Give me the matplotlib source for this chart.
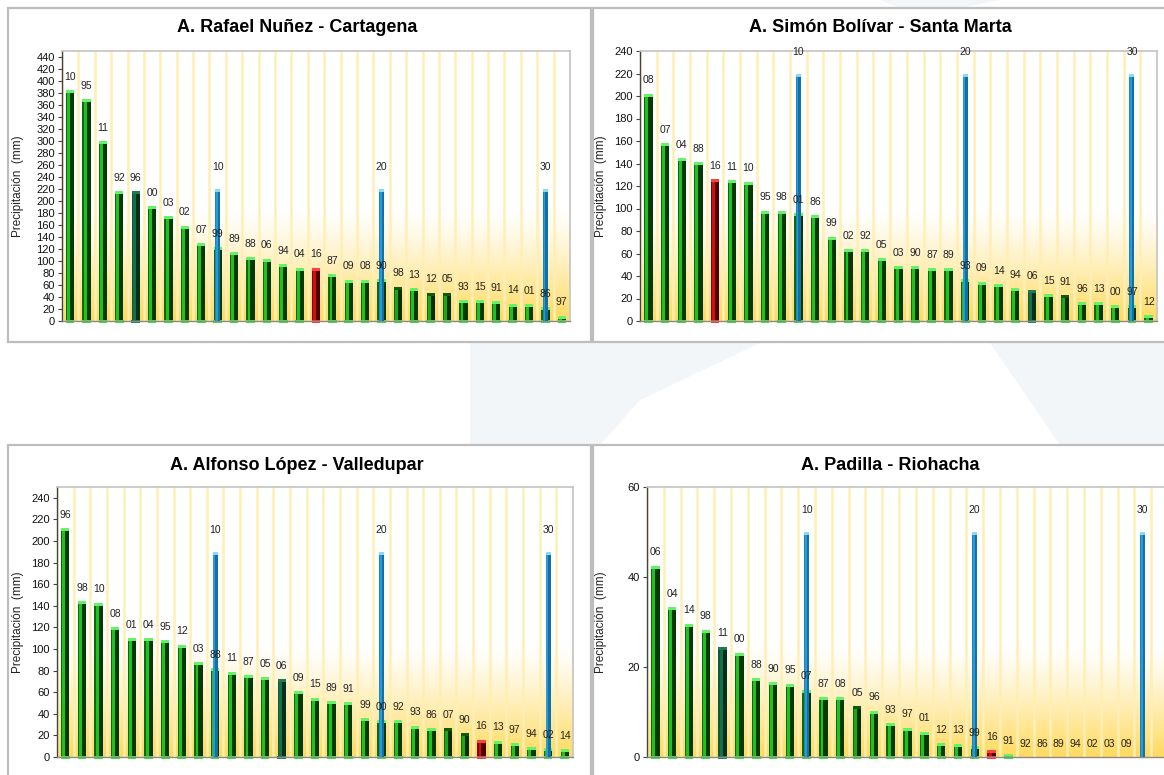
import numpy as np
import matplotlib.pyplot as plt
from matplotlib.patches import Rectangle, Polygon
from matplotlib.colors import to_rgb

plt.rcParams['font.family'] = ['Liberation Sans', 'DejaVu Sans']

W, H = 1164, 775

# ---- data (ranked monthly precipitation, label = year) ----
cart_years = ["10", "95", "11", "92", "96", "00", "03", "02", "07", "99",
              "89", "88", "06", "94", "04", "16", "87", "09", "08", "90",
              "98", "13", "12", "05", "93", "15", "91", "14", "01", "86", "97"]
cart_vals = [385, 370, 300, 216, 216, 191, 175, 159, 130, 123,
             115, 106, 104, 95, 89, 89, 78, 69, 69, 70,
             57, 55, 47, 47, 35, 35, 33, 29, 28, 23, 9]
cart_kind = ["n", "n", "n", "n", "d", "n", "n", "n", "n", "n",
             "n", "n", "n", "n", "n", "r", "n", "n", "n", "n",
             "c", "n", "c", "c", "n", "n", "n", "n", "n", "n", "n"]

smar_years = ["08", "07", "04", "88", "16", "11", "10", "95", "98", "01",
              "86", "99", "02", "92", "05", "03", "90", "87", "89", "93",
              "09", "14", "94", "06", "15", "91", "96", "13", "00", "97", "12"]
smar_vals = [202, 158, 145, 141, 126, 125, 124, 98, 98, 96,
             94, 75, 64, 64, 56, 49, 49, 47, 47, 37,
             35, 33, 29, 28, 24, 23, 17, 17, 14, 14, 5]
smar_kind = ["n", "n", "n", "n", "r", "n", "n", "n", "n", "n",
             "n", "n", "n", "n", "n", "n", "n", "n", "n", "n",
             "n", "n", "n", "d", "n", "c", "n", "n", "n", "n", "n"]

vall_years = ["96", "98", "10", "08", "01", "04", "95", "12", "03", "88",
              "11", "87", "05", "06", "09", "15", "89", "91", "99", "00",
              "92", "93", "86", "07", "90", "16", "13", "97", "94", "02", "14"]
vall_vals = [212, 144, 143, 120, 110, 110, 108, 104, 88, 82,
             79, 76, 74, 72, 61, 55, 52, 51, 36, 34,
             34, 29, 27, 27, 22, 16, 15, 13, 9, 8, 7]
vall_kind = ["n", "n", "n", "n", "n", "n", "n", "n", "n", "n",
             "n", "n", "n", "d", "n", "n", "n", "n", "n", "n",
             "n", "n", "n", "c", "c", "r", "n", "n", "n", "n", "n"]

rioh_years = ["06", "04", "14", "98", "11", "00", "88", "90", "95", "07",
              "87", "08", "05", "96", "93", "97", "01", "12", "13", "99",
              "16", "91", "92", "86", "89", "94", "02", "03", "09", "", ""]
rioh_vals = [42.5, 33.3, 29.6, 28.3, 24.5, 23.2, 17.5, 16.6, 16.3, 15.0,
             13.3, 13.3, 11.3, 10.3, 7.5, 6.5, 5.6, 3.1, 3.0, 2.4,
             1.5, 0.6, 0, 0, 0, 0, 0, 0, 0, np.nan, np.nan]
rioh_kind = ["n", "n", "n", "n", "d", "n", "n", "n", "n", "n",
             "n", "n", "c", "n", "n", "n", "n", "n", "n", "n",
             "r", "n", "n", "n", "n", "n", "n", "n", "n", "n", "n"]

# reference markers every 10 ranks
mark_rank = [10, 20, 30]
mark_height = {"cart": 220, "smar": 220, "vall": 190, "rioh": 50}

# colours: left edge, face, right shade, top cap, base
KIND_COLS = {
    "n": ("#0b6a0b", "#20c020", "#053a05", "#66f266", "#3ee83e"),
    "c": ("#0b6a0b", "#1aa81a", "#042e04", "#0c5a0c", "#3ee83e"),
    "d": ("#0c5a3a", "#137048", "#04301c", "#1e7a52", "#1e7a52"),
    "r": ("#8a0000", "#d01010", "#4a0000", "#ff4040", "#ff3030"),
}
BLUE_COLS = ("#1a86c0", "#2a9ad6", "#1170a6", "#8adaf6", "#2a9ad6")


def fig_box(x0, y0, x1, y1):
    return [x0 / W, 1 - y1 / H, (x1 - x0) / W, (y1 - y0) / H]


def bars3d(ax, x, h, w, cols, capfrac, z, base=True):
    x = np.asarray(x, float)
    h = np.asarray(h, float)
    edge, face, shade, cap, bot = cols
    ax.bar(x - 0.425 * w, h, 0.15 * w, color=edge, zorder=z, linewidth=0)
    ax.bar(x - 0.175 * w, h, 0.35 * w, color=face, zorder=z, linewidth=0)
    ax.bar(x + 0.25 * w, h, 0.5 * w, color=shade, zorder=z, linewidth=0)
    ax.bar(x, capfrac, w, bottom=h - capfrac, color=cap, zorder=z + 0.1, linewidth=0)
    if base:
        ax.bar(x, capfrac * 1.1, w * 1.05, bottom=-capfrac * 0.6, color=bot,
               zorder=z + 0.1, linewidth=0, clip_on=False)


def draw_panel(fig, key, title, ax_px, box_px, title_xy, ylab_x,
               years, vals, kinds, ymax, ticks):
    # panel frame
    bx0, by0, bx1, by1 = box_px
    fig.patches.append(Rectangle((bx0 / W, 1 - by1 / H), (bx1 - bx0) / W, (by1 - by0) / H,
                                 transform=fig.transFigure, facecolor="white",
                                 edgecolor="#bdbdbd", linewidth=1.6, zorder=-0.5))
    fig.text(title_xy[0] / W, 1 - title_xy[1] / H, title, ha="center", va="center",
             fontsize=13, fontweight="bold", color="black")

    ax = fig.add_axes(fig_box(*ax_px))
    ax.set_facecolor("white")
    n = len(years)
    x = np.arange(n)
    vals = np.asarray(vals, float)

    # yellow gradient at the bottom of the plot area
    t = np.linspace(0, 1, 200)[:, None]
    img = np.zeros((200, 1, 4))
    img[..., :3] = to_rgb("#ffd64a")
    img[..., 3] = 0.9 * (1 - t) ** 1.3
    ax.imshow(img, extent=(-0.5, n - 0.5, 0, 0.42 * ymax), origin="lower",
              aspect="auto", zorder=0, interpolation="bilinear")

    # vertical stripes between categories
    for b in np.arange(-0.5, n + 0.5, 1.0):
        ax.axvline(b, color="#ffefb5", lw=1.8, zorder=0.5)

    ax_h = ax_px[3] - ax_px[1]
    capfrac = ymax * 3.0 / ax_h
    w = 0.5

    for k in KIND_COLS:
        sel = np.array([kk == k for kk in kinds]) & (vals > 0) & ~np.isnan(vals)
        if sel.any():
            bars3d(ax, x[sel], vals[sel], w, KIND_COLS[k], capfrac, 2)

    mpos = np.array(mark_rank) - 1
    mh = np.full(len(mpos), mark_height[key], float)
    bars3d(ax, mpos, mh, 0.30, BLUE_COLS, capfrac, 3, base=False)

    # year labels
    for xi, v, lab in zip(x, vals, years):
        if np.isnan(v) or lab == "":
            continue
        ax.annotate(lab, (xi, v), xytext=(0, 6), textcoords="offset points",
                    ha="center", va="bottom", fontsize=7.5, color="#222222", zorder=6)
    for xi, v, r in zip(mpos, mh, mark_rank):
        ax.annotate(str(r), (xi, v), xytext=(0, 12), textcoords="offset points",
                    ha="center", va="bottom", fontsize=7.5, color="#222222", zorder=6)

    ax.set_xlim(-0.5, n - 0.5)
    ax.set_ylim(0, ymax)
    ax.set_yticks(ticks)
    ax.set_xticks([])
    ax.tick_params(axis="y", labelsize=8, length=3, width=0.8, color="#444444",
                   pad=2, labelcolor="#111111")
    ax.spines["left"].set_color("#444444")
    ax.spines["left"].set_linewidth(1.0)
    ax.spines["bottom"].set_color("#8a8a8a")
    ax.spines["bottom"].set_linewidth(1.0)
    for s in ("top", "right"):
        ax.spines[s].set_color("#c4c4c4")
        ax.spines[s].set_linewidth(1.2)

    yc = (ax_px[1] + ax_px[3]) / 2
    fig.text(ylab_x / W, 1 - yc / H, "Precipitación  (mm)", rotation=90,
             ha="center", va="center", fontsize=8.5, color="#222222")
    return ax


fig = plt.figure(figsize=(W / 100, H / 100), dpi=100)
fig.patch.set_facecolor("white")

# faint watermark shapes in the background
for pts in ([(470, 343), (760, 343), (640, 400), (600, 445), (470, 445)],
            [(990, 343), (1164, 343), (1164, 445), (1060, 445)],
            [(880, 0), (1000, 0), (960, 8), (900, 8)]):
    fig.patches.append(Polygon([(px / W, 1 - py / H) for px, py in pts], closed=True,
                               transform=fig.transFigure, facecolor="#f3f6f8",
                               edgecolor="none", zorder=-1))

draw_panel(fig, "cart", "A. Rafael Nuñez - Cartagena", (62, 51, 570, 321),
           (8, 8, 591, 342), (297, 27), 18,
           cart_years, cart_vals, cart_kind, 450, np.arange(0, 441, 20))
draw_panel(fig, "smar", "A. Simón Bolívar - Santa Marta", (640, 51, 1157, 321),
           (593, 8, 1180, 342), (880, 27), 601,
           smar_years, smar_vals, smar_kind, 240, np.arange(0, 241, 20))
draw_panel(fig, "vall", "A. Alfonso López - Valledupar", (57, 487, 573, 757),
           (8, 445, 591, 800), (297, 465), 18,
           vall_years, vall_vals, vall_kind, 250, np.arange(0, 241, 20))
draw_panel(fig, "rioh", "A. Padilla - Riohacha", (647, 487, 1168, 757),
           (593, 445, 1180, 800), (890, 465), 601,
           rioh_years, rioh_vals, rioh_kind, 60, np.arange(0, 61, 20))

fig.savefig("out.png", dpi=100)
